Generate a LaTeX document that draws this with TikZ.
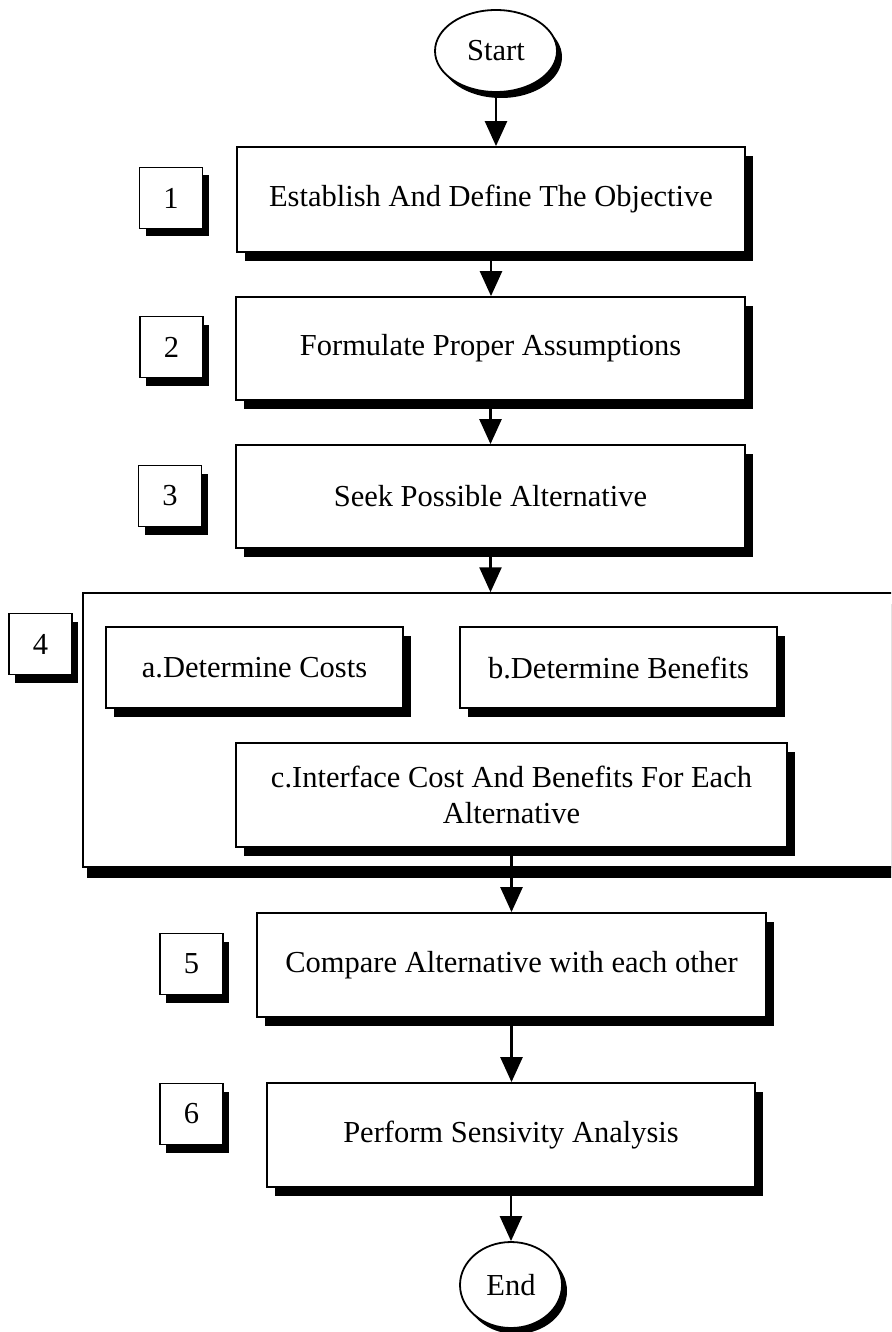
\documentclass[tikz,border=0pt]{standalone}
\usepackage{fontspec}
\setmainfont{Liberation Serif}
\usetikzlibrary{shapes.geometric,shadows,arrows.meta}
\begin{document}
\begin{tikzpicture}[x=1pt,y=-1pt,
  every node/.style={font=\fontsize{30.5}{36}\selectfont},
  stepbox/.style={draw, line width=1.8pt, fill=white, inner sep=0pt,
    general shadow={fill=black, shadow xshift=8pt, shadow yshift=-9pt}},
  numbox/.style={draw, line width=1.8pt, fill=white, inner sep=0pt,
    minimum width=63pt, minimum height=61pt,
    general shadow={fill=black, shadow xshift=6pt, shadow yshift=-8pt}},
  groupbox/.style={draw, line width=1.5pt, fill=white, inner sep=0pt,
    general shadow={fill=black, shadow xshift=4pt, shadow yshift=-11pt}},
  term/.style={ellipse, draw, line width=1.8pt, fill=white, inner sep=0pt,
    general shadow={fill=black, shadow xshift=5pt, shadow yshift=-6pt}},
  flow/.style={line width=2.6pt, -{Triangle[length=25pt,width=22pt]}}
]
\useasboundingbox (0,0) rectangle (891,1332);
\begin{scope}
\clip (0,0) rectangle (891,1332);

% terminals
\node[term, minimum width=122pt, minimum height=82pt] (start) at (496,51) {Start};
\node[term, minimum width=102pt, minimum height=86pt] (end) at (511,1285) {End};

% main steps
\node[stepbox, minimum width=508pt, minimum height=105pt] (s1) at (491,199.5) {Establish And Define The Objective};
\node[stepbox, minimum width=509pt, minimum height=103pt] (s2) at (490.5,348.5) {Formulate Proper Assumptions};
\node[stepbox, minimum width=509pt, minimum height=103pt] (s3) at (490.5,496.5) {Seek Possible Alternative};

% group 4
\node[groupbox, minimum width=830pt, minimum height=274pt] (s4) at (498,730) {};
\node[stepbox, minimum width=297pt, minimum height=81pt] (s4a) at (254.5,667.5) {a.Determine Costs};
\node[stepbox, minimum width=317pt, minimum height=81pt] (s4b) at (618.5,667.5) {b.Determine Benefits};
\node[stepbox, minimum width=551pt, minimum height=104pt, align=center] (s4c) at (511.5,795) {c.Interface Cost And Benefits For Each\\Alternative};

\node[stepbox, minimum width=509pt, minimum height=104pt] (s5) at (511.5,965) {Compare Alternative with each other};
\node[stepbox, minimum width=488pt, minimum height=104pt] (s6) at (511,1135) {Perform Sensivity Analysis};

% number labels
\node[numbox] (n1) at (171,198) {1};
\node[numbox] (n2) at (171.5,347) {2};
\node[numbox] (n3) at (170,496) {3};
\node[numbox] (n4) at (40.5,644) {4};
\node[numbox] (n5) at (191.5,964) {5};
\node[numbox] (n6) at (191.5,1114) {6};

% connectors
\draw[flow] (start.south) -- (start.south |- s1.north);
\draw[flow] (s1.south) -- (s1.south |- s2.north);
\draw[flow] (s2.south) -- (s2.south |- s3.north);
\draw[flow] (s3.south) -- (s3.south |- s4.north);
\draw[flow] (s4c.south) -- (s4c.south |- s5.north);
\draw[flow] (s5.south) -- (s5.south |- s6.north);
\draw[flow] (s6.south) -- (s6.south |- end.north);
\end{scope}
\end{tikzpicture}
\end{document}
